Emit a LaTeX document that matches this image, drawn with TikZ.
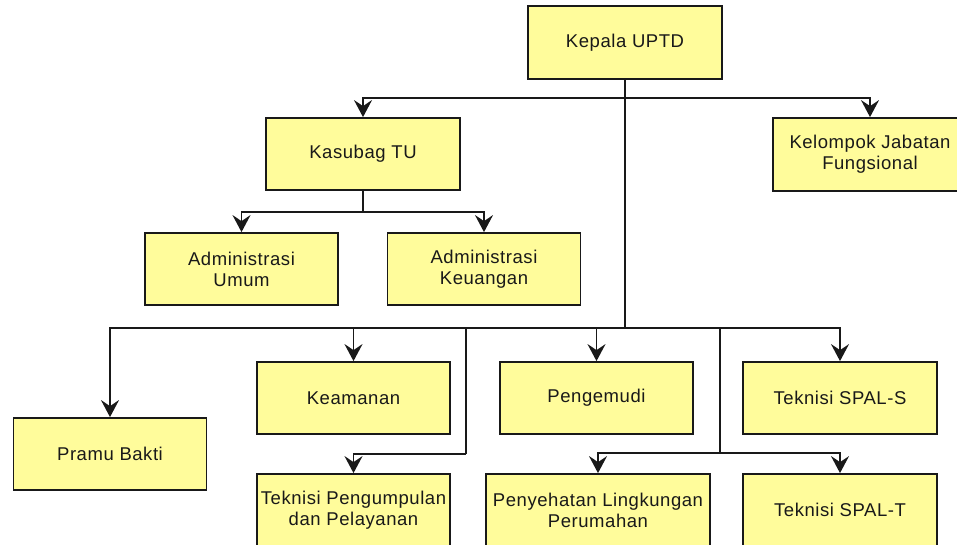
\documentclass[tikz,border=0pt]{standalone}
\usepackage{fontspec}
\setmainfont{Liberation Sans}[LetterSpace=3]
\usetikzlibrary{arrows.meta}
\definecolor{boxfill}{RGB}{255,252,155}
\definecolor{ink}{RGB}{25,25,25}

\begin{document}
\begin{tikzpicture}[x=1pt,y=-1pt,
  unit/.style={draw=ink, line width=1.8pt, fill=boxfill, minimum width=194pt,
    minimum height=72pt, inner sep=0pt, align=center,
    font=\fontsize{18.5}{21}\selectfont, text=ink},
  link/.style={line width=1.4pt, draw=ink},
  arr/.style={link, -{Stealth[length=17pt,width=18pt,inset=6pt]}}]

  \useasboundingbox (0,0) rectangle (957,545);
  \clip (0,0) rectangle (957,545);

  % units
  \node[unit, minimum height=73pt] (kepala) at (625,42.5) {Kepala UPTD};
  \node[unit] (kasubag) at (363,154) {Kasubag TU};
  \node[unit, minimum height=73pt] (jabfung) at (870,154.5) {Kelompok Jabatan\\Fungsional};
  \node[unit, minimum width=193pt] (admumum) at (241.5,269) {Administrasi\\Umum};
  \node[unit, minimum width=193pt] (admkeu) at (484,269) {Administrasi\\Keuangan};
  \node[unit, minimum width=193pt] (pramu) at (110,454) {Pramu Bakti};
  \node[unit, minimum width=193pt] (keamanan) at (353.5,398) {Keamanan};
  \node[unit, minimum width=193pt] (pengemudi) at (596.5,398) {Pengemudi};
  \node[unit, minimum width=194pt] (spals) at (840,398) {Teknisi SPAL-S};
  \node[unit, minimum width=193pt] (tpp) at (353.5,510) {Teknisi Pengumpulan\\dan Pelayanan};
  \node[unit, minimum width=224pt] (plp) at (598,510) {Penyehatan Lingkungan\\Perumahan};
  \node[unit, minimum width=194pt] (spalt) at (840,510) {Teknisi SPAL-T};

  % junctions
  \coordinate (top) at (625,98);
  \coordinate (bus) at (625,328);
  \coordinate (tu) at (363,212);
  \coordinate (j1) at (466,328);
  \coordinate (b1) at (466,454);
  \coordinate (j2) at (720,328);
  \coordinate (b2) at (720,453);

  % connectors
  \draw[link] (kepala.south) -- (bus);
  \draw[arr] (top) -| (kasubag.north);
  \draw[arr] (top) -| (jabfung.north);
  \draw[link] (kasubag.south) -- (tu);
  \draw[arr] (tu) -| (admumum.north);
  \draw[arr] (tu) -| (admkeu.north);
  \draw[arr] (bus) -| (pramu.north);
  \draw[arr] (bus) -| (keamanan.north);
  \draw[arr] (bus) -| (pengemudi.north);
  \draw[arr] (bus) -| (spals.north);
  \draw[link] (j1) -- (b1);
  \draw[arr] (b1) -| (tpp.north);
  \draw[link] (j2) -- (b2);
  \draw[arr] (b2) -| (plp.north);
  \draw[arr] (b2) -| (spalt.north);
\end{tikzpicture}
\end{document}
